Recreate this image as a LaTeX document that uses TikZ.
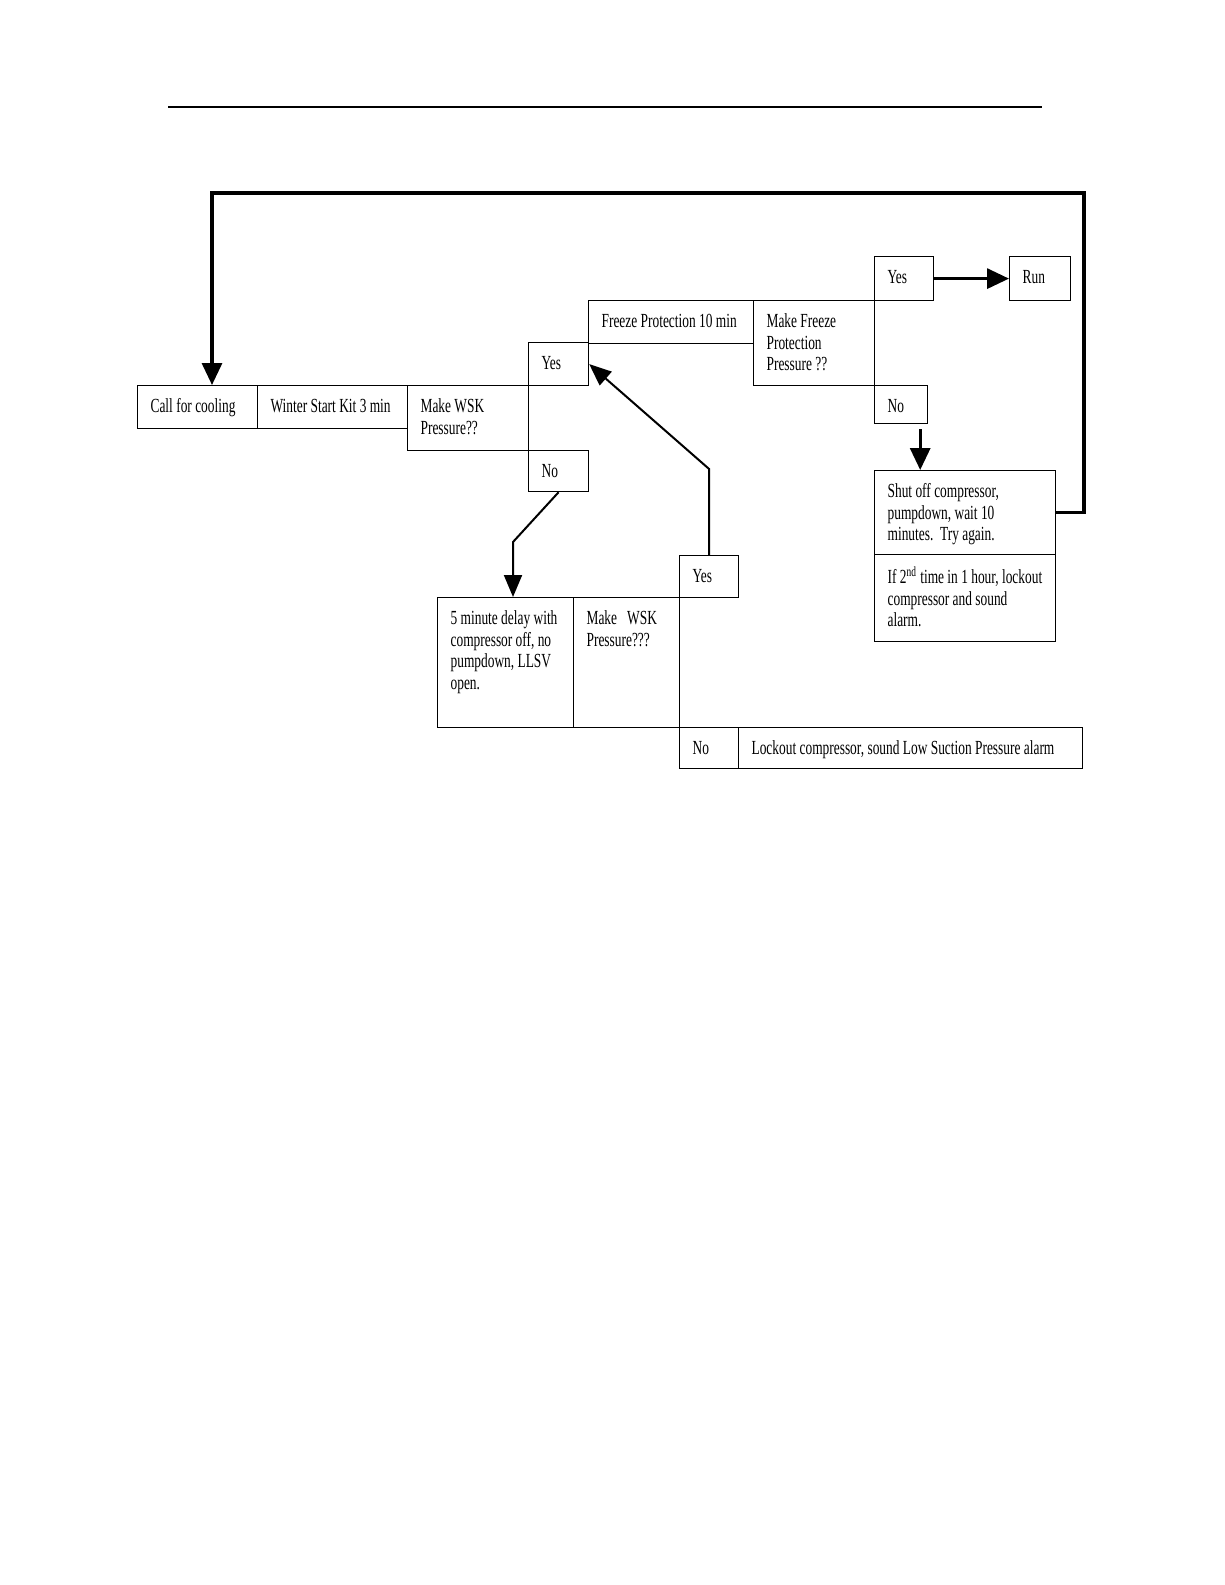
\documentclass[tikz,border=0pt]{standalone}
\usepackage{fontspec}
\setmainfont{Liberation Serif}[FakeStretch=0.67]
\usepackage{tikz}
\usetikzlibrary{arrows.meta}

% text of a cell: top left, fixed size
\newcommand{\celltext}[3]{\parbox[c][#2][t]{#1}{\vspace*{6pt}\raggedright\leftskip=6.5pt\strut #3}}

\begin{document}
\begin{tikzpicture}[x=0.5pt,y=-0.5pt,
		cell/.style={draw,line width=0.6pt,anchor=north west,inner sep=0pt,font=\fontsize{10}{10.8}\selectfont},
		bigarrow/.style={line width=1.6pt,-{Triangle[length=11pt,width=10pt]}},
		arrow/.style={line width=1pt,-{Triangle[length=11pt,width=9pt]}}]
		\useasboundingbox (0,0) rectangle (1225,1585);
		\draw[line width=0.8pt] (168,107) -- (1042,107);
		%
		\node[cell] (call) at (137,385) {\celltext{60pt}{21.5pt}{Call for cooling}};
		\node[cell] (wsk) at (257,385) {\celltext{75pt}{21.5pt}{Winter Start Kit 3 min}};
		\node[cell] (makewsk) at (407,385) {\celltext{60.5pt}{32.5pt}{Make WSK\\Pressure??}};
		\node[cell] (yesA) at (528,342) {\celltext{30pt}{21.5pt}{Yes}};
		\node[cell] (noA) at (528,450) {\celltext{30pt}{20.5pt}{No}};
		\node[cell] (freeze) at (588,300) {\celltext{82.5pt}{21.5pt}{Freeze Protection 10 min}};
		\node[cell] (makefp) at (753,300) {\celltext{60.5pt}{42.5pt}{Make Freeze\\Protection\\Pressure ??}};
		\node[cell] (yesB) at (874,256) {\celltext{29.5pt}{22pt}{Yes}};
		\node[cell] (run) at (1009,256) {\celltext{30.5pt}{22pt}{Run}};
		\node[cell] (noB) at (874,385) {\celltext{26.5pt}{19pt}{No}};
		\node[cell] (shut) at (874,470) {\celltext{90.5pt}{42pt}{Shut off compressor,\\pumpdown, wait 10\\minutes.\ \ Try again.}};
		\node[cell] (second) at (874,554) {\celltext{90.5pt}{43.5pt}{If 2\textsuperscript{nd} time in 1 hour, lockout\\compressor and sound\\alarm.}};
		\node[cell] (delay) at (437,597) {\celltext{68pt}{65pt}{5 minute delay with\\compressor off, no\\pumpdown, LLSV\\open.}};
		\node[cell] (makewsk2) at (573,597) {\celltext{53pt}{65pt}{Make\ \ \ WSK\\Pressure???}};
		\node[cell] (yesC) at (679,555) {\celltext{29.5pt}{21pt}{Yes}};
		\node[cell] (noC) at (679,727) {\celltext{29.5pt}{20.5pt}{No}};
		\node[cell] (lockout) at (738,727) {\celltext{172pt}{20.5pt}{Lockout compressor, sound Low Suction Pressure alarm}};
		%
		\coordinate (loopR) at (1084,193);
		\coordinate (loopL) at (212,193);
		\coordinate (bendA) at (513,542);
		\coordinate (downB) at ([xshift=-4pt,yshift=-2.5pt]noB.south east);
		%
		\draw[bigarrow] (shut.east) -| (loopR) -- (loopL) -- (loopL |- call.north);
		\draw[bigarrow] (yesB) -- (run);
		\draw[bigarrow] (downB) -- (downB |- shut.north);
		\draw[arrow] (noA.south) -- (bendA) -- (bendA |- delay.north);
		\draw[arrow] (yesC.north) -- ++(0,-86) -- (yesA.east);
\end{tikzpicture}
\end{document}
